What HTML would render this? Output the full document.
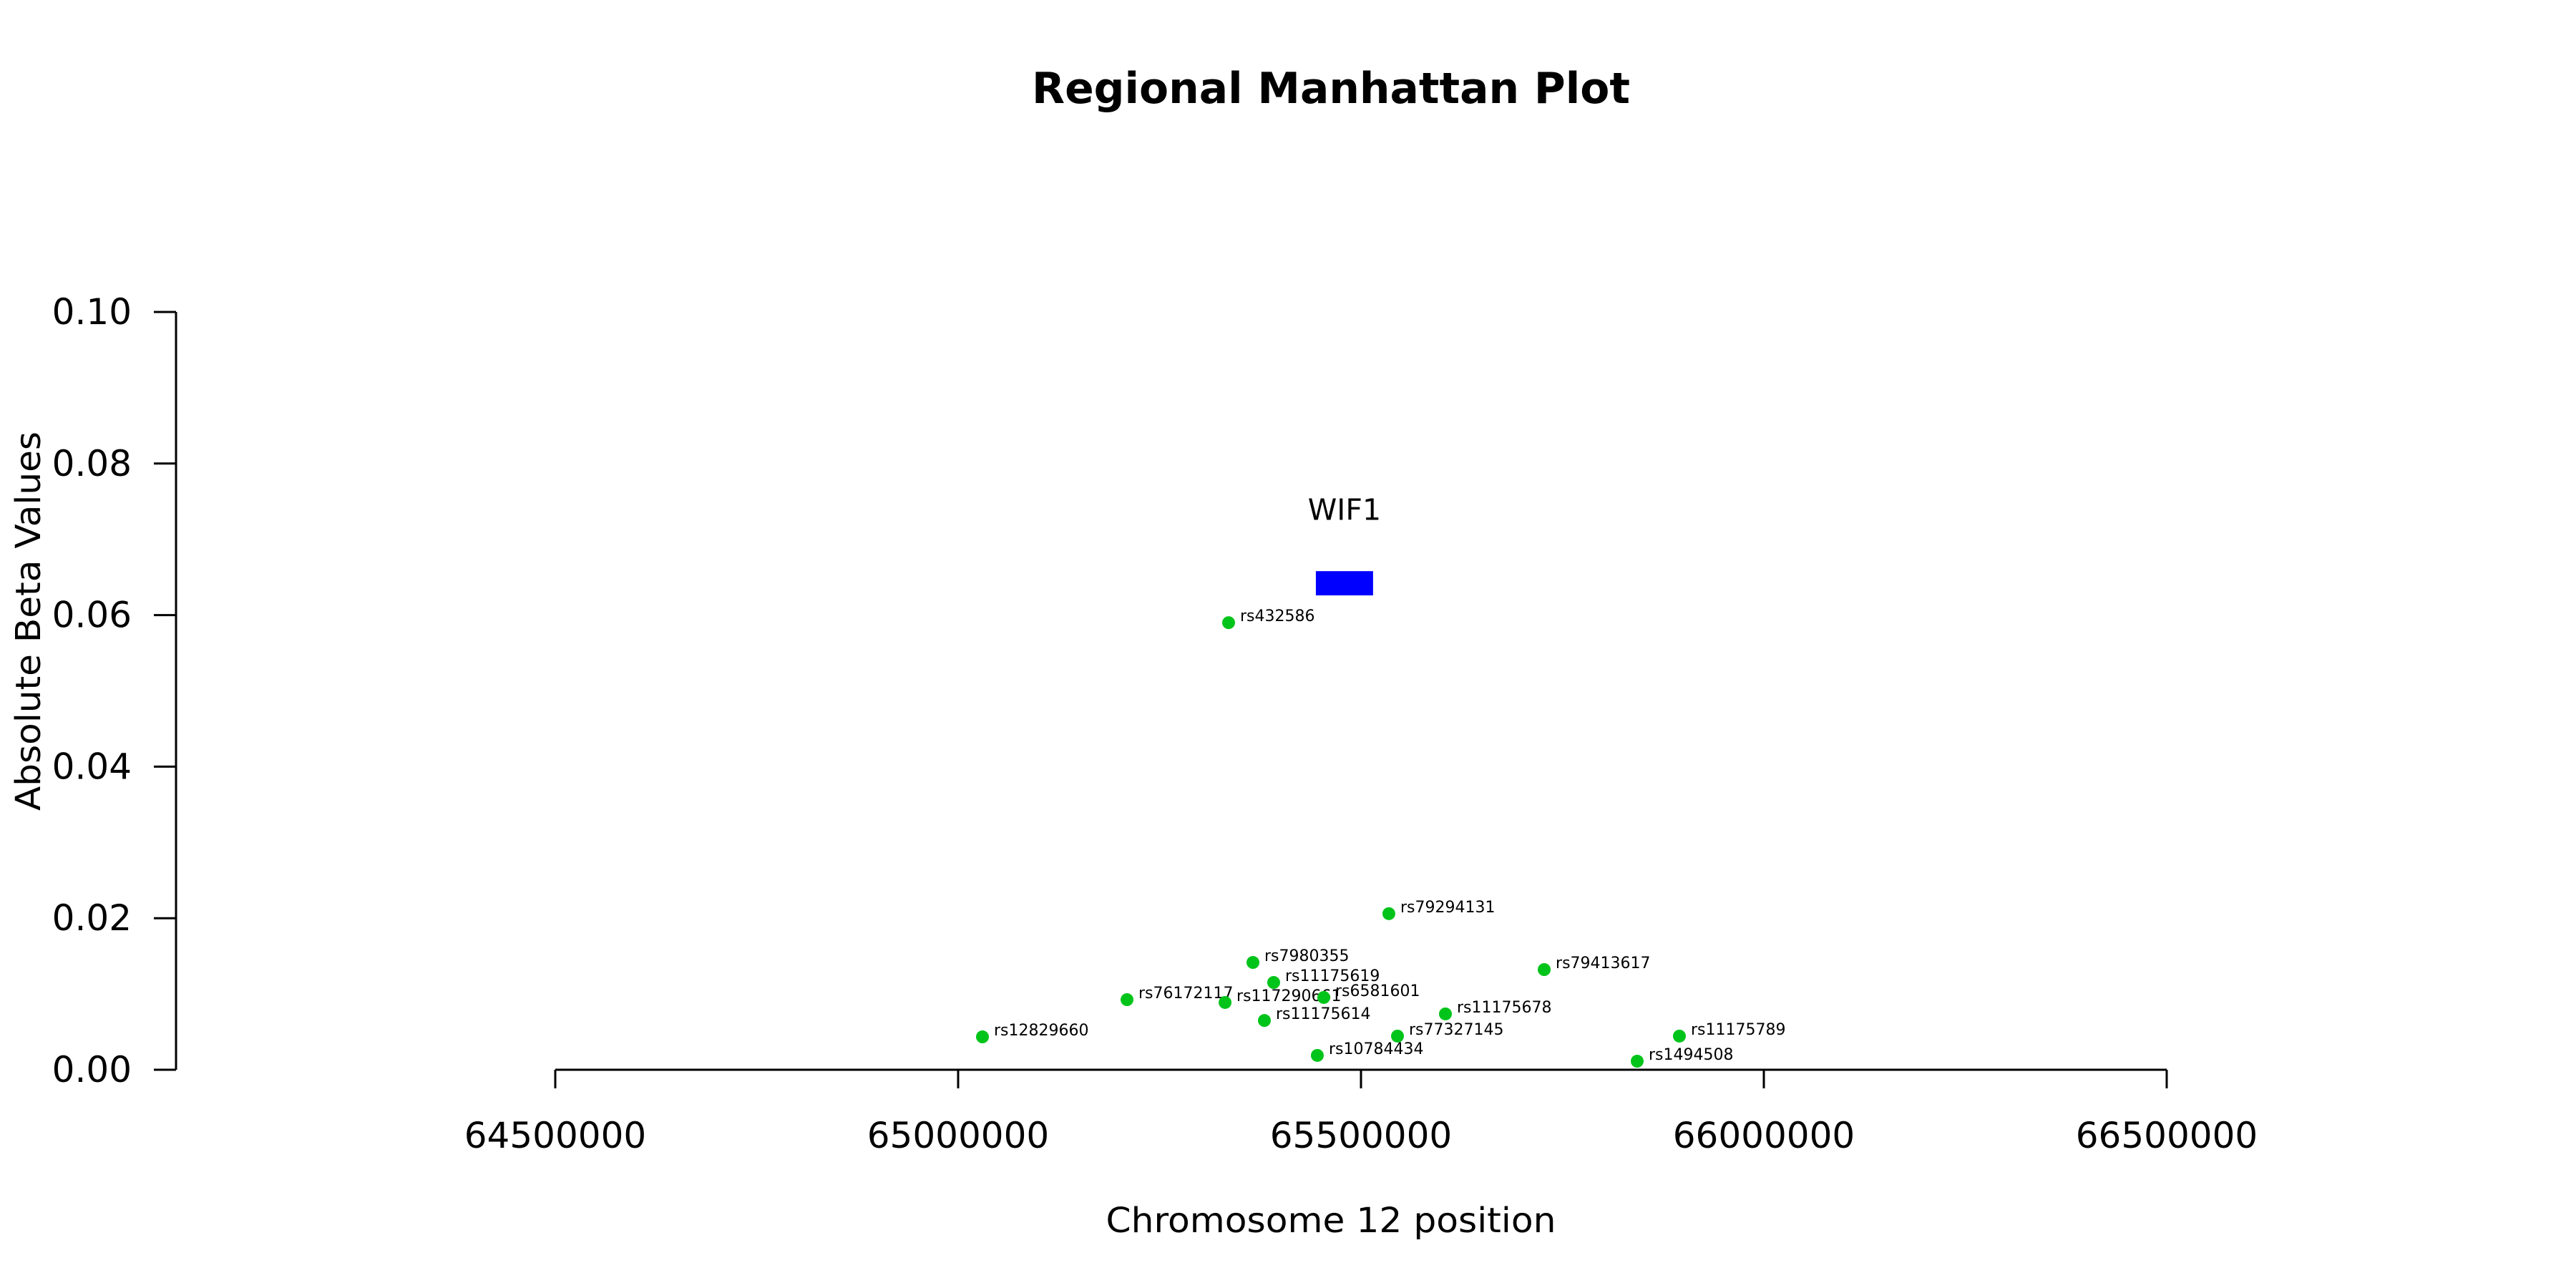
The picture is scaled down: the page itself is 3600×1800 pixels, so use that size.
<!DOCTYPE html>
<html><head><meta charset="utf-8"><style>html,body{margin:0;padding:0;background:#fff}svg{display:block}text{font-family:"DejaVu Sans","Liberation Sans",sans-serif;fill:#000}</style></head>
<body>
<svg id="chart" width="3600" height="1800" viewBox="0 0 3600 1800" xmlns="http://www.w3.org/2000/svg">
<rect width="3600" height="1800" fill="#fff"/>
<text x="1860" y="144" font-size="60" font-weight="bold" text-anchor="middle" textLength="836" lengthAdjust="spacingAndGlyphs">Regional Manhattan Plot</text>
<text x="1860" y="1722" font-size="48" text-anchor="middle" textLength="629" lengthAdjust="spacingAndGlyphs">Chromosome 12 position</text>
<text transform="translate(56,868) rotate(-90)" font-size="48" text-anchor="middle" textLength="530" lengthAdjust="spacingAndGlyphs">Absolute Beta Values</text>
<g id="axes"></g>
<g id="gene"></g>
<g id="points"></g>
</svg>
<script>
const snpNames = ["rs432586","rs79294131","rs7980355","rs11175619","rs76172117","rs117290661","rs6581601","rs11175614","rs11175678","rs77327145","rs10784434","rs79413617","rs11175789","rs1494508","rs12829660"];
const snpPositions = [65335700,65534600,65365900,65391600,65209600,65331300,65453800,65380100,65604800,65545300,65445800,65727400,65895200,65842800,65030200];
const snpBetas = [0.0590,0.0206,0.01416,0.01152,0.00925,0.00888,0.00954,0.0065,0.00737,0.00444,0.00189,0.01322,0.00444,0.00113,0.00434];
const xTicks = [64500000,65000000,65500000,66000000,66500000];
const yTicks = [0,0.02,0.04,0.06,0.08,0.10];
const yTickLabels = ["0.00","0.02","0.04","0.06","0.08","0.10"];
const geneName = "WIF1";
const geneStart = 65444000;
const geneEnd = 65515000;
const geneYLow = 0.0626;
const geneYHigh = 0.0658;
const geneLabelY = 0.074;

const NS = "http://www.w3.org/2000/svg";
const X0 = 776, X1 = 3028, Y0 = 1495, Y1 = 436;
const xMin = 64500000, xMax = 66500000, yMin = 0, yMax = 0.1;
function sx(v){ return X0 + (v - xMin) / (xMax - xMin) * (X1 - X0); }
function sy(v){ return Y0 - (v - yMin) / (yMax - yMin) * (Y0 - Y1); }
function mk(tag, attrs, parent){ const e = document.createElementNS(NS, tag); for (const k in attrs) e.setAttribute(k, attrs[k]); parent.appendChild(e); return e; }

const axes = document.getElementById('axes');
let l = mk('line', {x1:246, y1:sy(yTicks[0]), x2:246, y2:sy(yTicks[yTicks.length-1]), stroke:'#000', 'stroke-width':3}, axes);


yTicks.forEach((t, i) => {
  const tk = mk('line', {x1:215, y1:sy(t), x2:246, y2:sy(t), stroke:'#000', 'stroke-width':3}, axes);
  
  
  const tx = mk('text', {x:184, y:sy(t) + 17, 'font-size':50, 'text-anchor':'end'}, axes);
  tx.textContent = yTickLabels[i];
  
  
});
l = mk('line', {x1:sx(xTicks[0]), y1:Y0, x2:sx(xTicks[xTicks.length-1]), y2:Y0, stroke:'#000', 'stroke-width':3}, axes);


xTicks.forEach(t => {
  const tk = mk('line', {x1:sx(t), y1:Y0, x2:sx(t), y2:Y0 + 26, stroke:'#000', 'stroke-width':3}, axes);
  
  
  const tx = mk('text', {x:sx(t), y:1604, 'font-size':50, 'text-anchor':'middle'}, axes);
  tx.textContent = String(t);
  
  
});

const gene = document.getElementById('gene');
const gr = mk('rect', {x:sx(geneStart), y:sy(geneYHigh), width:sx(geneEnd) - sx(geneStart), height:sy(geneYLow) - sy(geneYHigh), fill:'#0000FF'}, gene);


const gt = mk('text', {x:(sx(geneStart) + sx(geneEnd)) / 2, y:sy(geneLabelY) + 15, 'font-size':41, 'text-anchor':'middle'}, gene);
gt.textContent = geneName;



const pts = document.getElementById('points');
snpNames.forEach((n, i) => {
  const cx = sx(snpPositions[i]), cy = sy(snpBetas[i]);
  const c = mk('circle', {cx:cx, cy:cy, r:9, fill:'#00C41A'}, pts);
  
  
  const t = mk('text', {x:cx + 16, y:cy - 2, 'font-size':22}, pts);
  t.textContent = n;
  
  
});
</script>
</body></html>
